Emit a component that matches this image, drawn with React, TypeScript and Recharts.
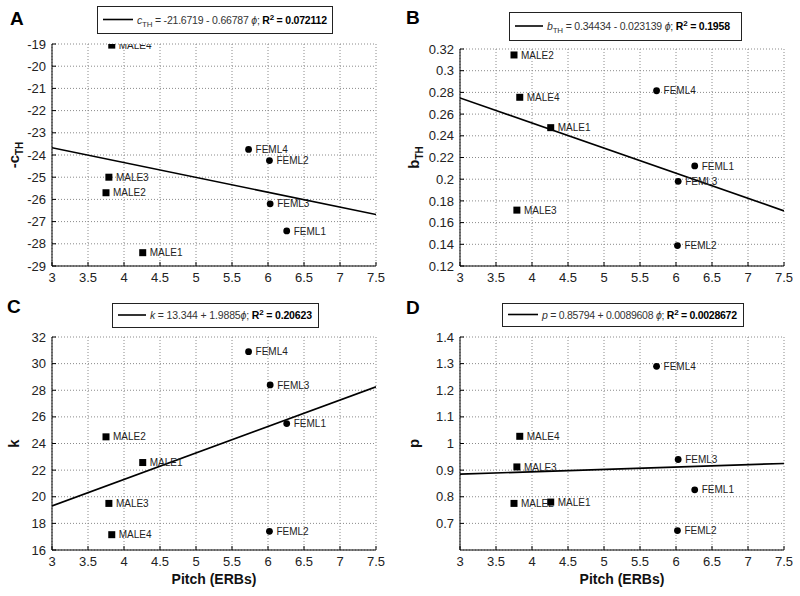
import React from 'react';
import { ScatterChart, Scatter, XAxis, YAxis, CartesianGrid } from 'recharts';

const FONT = '"Liberation Sans", Arial, Helvetica, sans-serif';

// Speakers (male drawn with squares, female with circles)
const maleNames = ['MALE2', 'MALE3', 'MALE4', 'MALE1'];
const malePitch = [3.75, 3.79, 3.83, 4.26];
const femaleNames = ['FEML1', 'FEML2', 'FEML3', 'FEML4'];
const femalePitch = [6.26, 6.02, 6.03, 5.73];

// Panel A: -c_TH
const maleCth = [-25.7, -25.0, -19.05, -28.4];
const femaleCth = [-27.42, -24.25, -26.2, -23.75];
// Panel B: b_TH
const maleBth = [0.3145, 0.1715, 0.2755, 0.2475];
const femaleBth = [0.2122, 0.1388, 0.198, 0.2815];
// Panel C: k
const maleK = [24.5, 19.5, 17.15, 22.57];
const femaleK = [25.5, 17.4, 28.4, 30.9];
// Panel D: p
const maleP = [0.775, 0.912, 1.027, 0.78];
const femaleP = [0.826, 0.673, 0.94, 1.29];

// Regression fits [intercept, slope] as given in legends
const fitCth = [-21.6719, -0.66787];
const fitBth = [0.34434, -0.023139];
const fitK = [13.344, 1.9885];
const fitP = [0.85794, 0.0089608];

// Axes
const pitchDomain = [3, 7.5];
const pitchTicks = [3, 3.5, 4, 4.5, 5, 5.5, 6, 6.5, 7, 7.5];
const cthTicks = [-29, -28, -27, -26, -25, -24, -23, -22, -21, -20, -19];
const bthTicks = [0.12, 0.14, 0.16, 0.18, 0.2, 0.22, 0.24, 0.26, 0.28, 0.3, 0.32];
const kTicks = [16, 18, 20, 22, 24, 26, 28, 30, 32];
const pTicks = [0.7, 0.8, 0.9, 1, 1.1, 1.2, 1.3, 1.4];

const toPoints = (names: string[], xs: number[], ys: number[]) =>
  names.map((name, i) => ({ name, x: xs[i], y: ys[i] }));

const fitPoints = (fit: number[]) =>
  pitchDomain.map((x) => ({ name: 'fit', x, y: fit[0] + fit[1] * x }));

const SquareShape = (p: any) => {
  const { cx, cy, payload } = p;
  if (cx == null || cy == null) return <g />;
  return (
    <g>
      <rect x={cx - 3.5} y={cy - 3.5} width={7} height={7} fill="#000" />
      <text x={cx + 7} y={cy + 3.6} fontSize={10} fontFamily={FONT} fill="#222">
        {payload.name}
      </text>
    </g>
  );
};

const CircleShape = (p: any) => {
  const { cx, cy, payload } = p;
  if (cx == null || cy == null) return <g />;
  return (
    <g>
      <circle cx={cx} cy={cy} r={3.4} fill="#000" />
      <text x={cx + 7} y={cy + 3.6} fontSize={10} fontFamily={FONT} fill="#222">
        {payload.name}
      </text>
    </g>
  );
};

const NoShape = () => <g />;

const BottomTick = (p: any) => {
  const { x, y, payload } = p;
  return (
    <g>
      <line x1={x} x2={x} y1={y} y2={y - 4} stroke="#000" strokeWidth={1} />
      <text x={x} y={y + 16} textAnchor="middle" fontSize={13} fontFamily={FONT} fill="#222">
        {String(payload.value)}
      </text>
    </g>
  );
};

const LeftTick = (p: any) => {
  const { x, y, payload } = p;
  return (
    <g>
      <line x1={x} x2={x + 4} y1={y} y2={y} stroke="#000" strokeWidth={1} />
      <text x={x - 6} y={y + 4.6} textAnchor="end" fontSize={13} fontFamily={FONT} fill="#222">
        {String(payload.value)}
      </text>
    </g>
  );
};

const TopTick = (p: any) => {
  const { x, y } = p;
  return <line x1={x} x2={x} y1={y} y2={y + 4} stroke="#000" strokeWidth={1} />;
};

const RightTick = (p: any) => {
  const { x, y } = p;
  return <line x1={x} x2={x - 4} y1={y} y2={y} stroke="#000" strokeWidth={1} />;
};

const XTitle = (p: any) => {
  const vb = p.viewBox || { x: 0, y: 0, width: 0, height: 0 };
  return (
    <text
      x={vb.x + vb.width / 2}
      y={vb.y + 34}
      textAnchor="middle"
      fontSize={14}
      fontWeight="bold"
      fontFamily={FONT}
      fill="#111"
    >
      {p.text}
    </text>
  );
};

const YTitle = (p: any) => {
  const vb = p.viewBox || { x: 0, y: 0, width: 0, height: 0 };
  const cx = vb.x + 19;
  const cy = vb.y + vb.height / 2;
  return (
    <text
      x={cx}
      y={cy}
      transform={`rotate(-90, ${cx}, ${cy})`}
      textAnchor="middle"
      fontSize={15}
      fontWeight="bold"
      fontFamily={FONT}
      fill="#111"
    >
      <tspan>{p.main}</tspan>
      {p.sub ? (
        <tspan fontSize={10} dy={4}>
          {p.sub}
        </tspan>
      ) : null}
    </text>
  );
};

type PanelProps = {
  left: number;
  top: number;
  width: number;
  height: number;
  plot: { l: number; t: number; r: number; b: number };
  yDomain: number[];
  yTicks: number[];
  male: number[];
  female: number[];
  fit: number[];
  yMain: string;
  ySub?: string;
  xTitle?: string;
};

const Panel = (props: PanelProps) => {
  const { left, top, width, height, plot, yDomain, yTicks, male, female, fit, yMain, ySub, xTitle } = props;
  const maleData = toPoints(maleNames, malePitch, male);
  const femaleData = toPoints(femaleNames, femalePitch, female);
  const fitData = fitPoints(fit);
  const xAxisH = height - plot.b;
  return (
    <div style={{ position: 'absolute', left, top, width, height }}>
      <ScatterChart
        width={width}
        height={height}
        margin={{ top: plot.t, right: width - plot.r, bottom: 0, left: 0 }}
      >
        <CartesianGrid xAxisId="b" yAxisId="l" stroke="#8a8a8a" strokeDasharray="1 2" />
        <XAxis
          xAxisId="b"
          dataKey="x"
          type="number"
          domain={pitchDomain}
          ticks={pitchTicks}
          interval={0}
          allowDataOverflow
          height={xAxisH}
          tickSize={0}
          tickMargin={0}
          tickLine={false}
          axisLine={{ stroke: '#000', strokeWidth: 1 }}
          tick={<BottomTick />}
          label={xTitle ? <XTitle text={xTitle} /> : undefined}
        />
        <XAxis
          xAxisId="t"
          orientation="top"
          dataKey="x"
          type="number"
          domain={pitchDomain}
          ticks={pitchTicks}
          interval={0}
          allowDataOverflow
          height={0}
          tickSize={0}
          tickMargin={0}
          tickLine={false}
          axisLine={{ stroke: '#000', strokeWidth: 1 }}
          tick={<TopTick />}
        />
        <YAxis
          yAxisId="l"
          dataKey="y"
          type="number"
          domain={yDomain}
          ticks={yTicks}
          interval={0}
          allowDataOverflow
          width={plot.l}
          tickSize={0}
          tickMargin={0}
          tickLine={false}
          axisLine={{ stroke: '#000', strokeWidth: 1 }}
          tick={<LeftTick />}
          label={<YTitle main={yMain} sub={ySub} />}
        />
        <YAxis
          yAxisId="r"
          orientation="right"
          dataKey="y"
          type="number"
          domain={yDomain}
          ticks={yTicks}
          interval={0}
          allowDataOverflow
          width={0}
          tickSize={0}
          tickMargin={0}
          tickLine={false}
          axisLine={{ stroke: '#000', strokeWidth: 1 }}
          tick={<RightTick />}
        />
        <Scatter
          xAxisId="b"
          yAxisId="l"
          data={fitData}
          line={{ stroke: '#000', strokeWidth: 1.6 }}
          shape={NoShape}
          isAnimationActive={false}
        />
        <Scatter xAxisId="b" yAxisId="l" data={maleData} shape={SquareShape} isAnimationActive={false} />
        <Scatter xAxisId="b" yAxisId="l" data={femaleData} shape={CircleShape} isAnimationActive={false} />
      </ScatterChart>
    </div>
  );
};

type LegendProps = {
  x: number;
  y: number;
  w: number;
  h: number;
  tx: number;
  tw: number;
  children: React.ReactNode;
};

const LegendBox = ({ x, y, w, h, tx, tw, children }: LegendProps) => {
  const mid = y + h / 2;
  return (
    <g>
      <rect x={x + 0.5} y={y + 0.5} width={w} height={h} fill="#fff" stroke="#222" strokeWidth={1} />
      <line x1={x + 6} x2={tx - 4} y1={mid} y2={mid} stroke="#000" strokeWidth={1.6} />
      <text
        x={tx}
        y={mid + 4}
        fontSize={10.5}
        fontFamily={FONT}
        fill="#333"
        textLength={tw}
        lengthAdjust="spacing"
      >
        {children}
      </text>
    </g>
  );
};

const R2 = ({ value }: { value: string }) => (
  <>
    <tspan fontWeight="bold" fill="#000">R</tspan>
    <tspan fontWeight="bold" fill="#000" fontSize={8} dy={-4}>2</tspan>
    <tspan fontWeight="bold" fill="#000" dy={4}>{` = ${value}`}</tspan>
  </>
);

const Letter = ({ x, y, t }: { x: number; y: number; t: string }) => (
  <text x={x} y={y} fontSize={19} fontWeight="bold" fontFamily={FONT} fill="#000">
    {t}
  </text>
);

export default function App() {
  return (
    <div style={{ position: 'absolute', left: 0, top: 0, width: 800, height: 596, background: '#fff' }}>
      <Panel
        left={0}
        top={0}
        width={400}
        height={290}
        plot={{ l: 52, t: 44, r: 376, b: 266 }}
        yDomain={[-29, -19]}
        yTicks={cthTicks}
        male={maleCth}
        female={femaleCth}
        fit={fitCth}
        yMain="-c"
        ySub="TH"
      />
      <Panel
        left={400}
        top={0}
        width={400}
        height={290}
        plot={{ l: 60, t: 49, r: 384, b: 266 }}
        yDomain={[0.12, 0.32]}
        yTicks={bthTicks}
        male={maleBth}
        female={femaleBth}
        fit={fitBth}
        yMain="b"
        ySub="TH"
      />
      <Panel
        left={0}
        top={290}
        width={400}
        height={306}
        plot={{ l: 52, t: 47, r: 376, b: 260 }}
        yDomain={[16, 32]}
        yTicks={kTicks}
        male={maleK}
        female={femaleK}
        fit={fitK}
        yMain="k"
        xTitle="Pitch (ERBs)"
      />
      <Panel
        left={400}
        top={290}
        width={400}
        height={306}
        plot={{ l: 60, t: 47, r: 384, b: 260 }}
        yDomain={[0.6, 1.4]}
        yTicks={pTicks}
        male={maleP}
        female={femaleP}
        fit={fitP}
        yMain="p"
        xTitle="Pitch (ERBs)"
      />
      <svg
        width={800}
        height={596}
        style={{ position: 'absolute', left: 0, top: 0, pointerEvents: 'none' }}
      >
        <Letter x={10} y={25} t="A" />
        <Letter x={406} y={24} t="B" />
        <Letter x={7} y={313} t="C" />
        <Letter x={406} y={314} t="D" />
        <LegendBox x={97} y={6} w={235} h={27} tx={137} tw={190}>
          <tspan fontStyle="italic">c</tspan>
          <tspan fontSize={8} dy={3}>TH</tspan>
          <tspan dy={-3}>{' = -21.6719 - 0.66787 '}</tspan>
          <tspan fontStyle="italic">ϕ</tspan>
          <tspan>{'; '}</tspan>
          <R2 value="0.072112" />
        </LegendBox>
        <LegendBox x={509} y={12} w={232} h={28} tx={547} tw={183}>
          <tspan fontStyle="italic">b</tspan>
          <tspan fontSize={8} dy={3}>TH</tspan>
          <tspan dy={-3}>{' = 0.34434 - 0.023139 '}</tspan>
          <tspan fontStyle="italic">ϕ</tspan>
          <tspan>{'; '}</tspan>
          <R2 value="0.1958" />
        </LegendBox>
        <LegendBox x={112} y={303} w={206} h={24} tx={150} tw={162}>
          <tspan fontStyle="italic">k</tspan>
          <tspan>{' = 13.344 + 1.9885'}</tspan>
          <tspan fontStyle="italic">ϕ</tspan>
          <tspan>{'; '}</tspan>
          <R2 value="0.20623" />
        </LegendBox>
        <LegendBox x={502} y={303} w={241} h={23} tx={542} tw={195}>
          <tspan fontStyle="italic">p</tspan>
          <tspan>{' = 0.85794 + 0.0089608 '}</tspan>
          <tspan fontStyle="italic">ϕ</tspan>
          <tspan>{'; '}</tspan>
          <R2 value="0.0028672" />
        </LegendBox>
      </svg>
    </div>
  );
}
